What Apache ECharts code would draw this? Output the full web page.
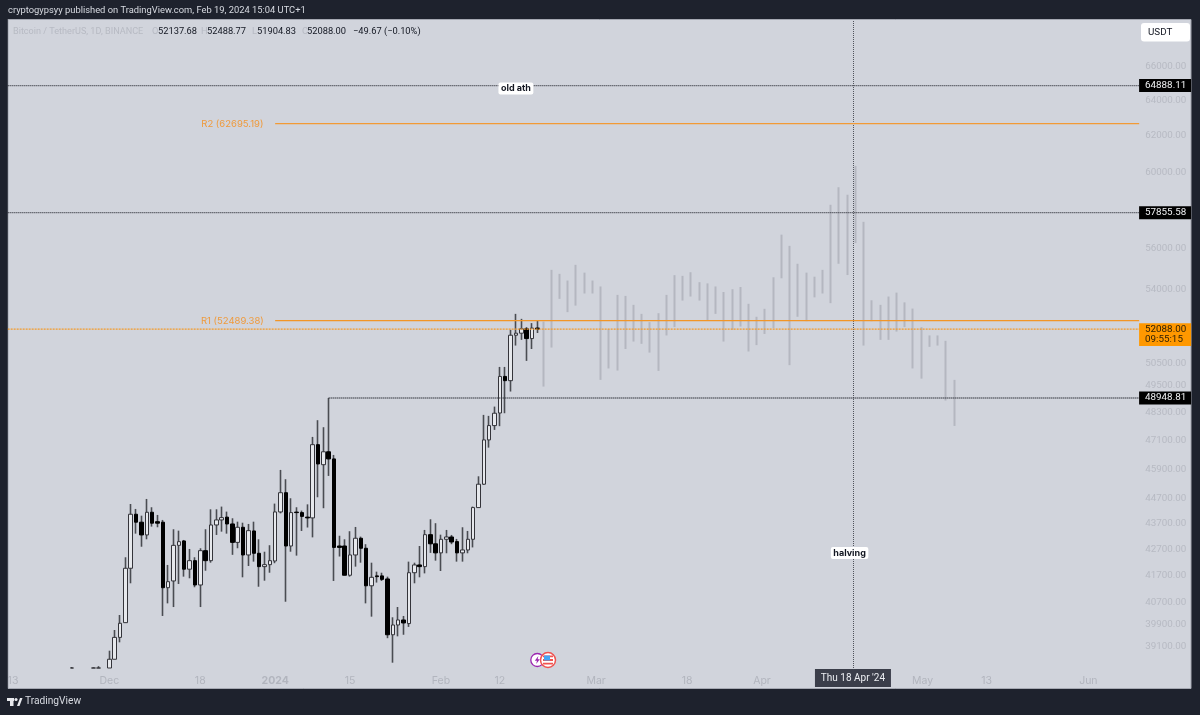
<!DOCTYPE html>
<html><head><meta charset="utf-8">
<style>html,body{margin:0;padding:0;background:#1e222d}#c{width:1200px;height:715px}</style>
<script src="https://cdn.jsdelivr.net/npm/echarts@6/dist/echarts.min.js"></script>
</head><body><div id="c"></div>
<script>
// ---- axis ticks ----
const priceTicks = [66000,64000,62000,60000,56000,54000,50500,49500,48300,47100,45900,44700,43700,42700,41700,40700,39900,39100];
const timeTicks = {'2023-11-13':'13','2023-12-01':'Dec','2023-12-18':'18','2024-01-01':'2024','2024-01-15':'15','2024-02-01':'Feb','2024-02-12':'12','2024-03-01':'Mar','2024-03-18':'18','2024-04-01':'Apr','2024-05-01':'May','2024-05-13':'13','2024-06-01':'Jun'};
const firstDay = '2023-11-12', lastDay = '2024-06-10';
const categories = [];
for (let t = Date.parse(firstDay+'T00:00:00Z'); t <= Date.parse(lastDay+'T00:00:00Z'); t += 864e5) categories.push(new Date(t).toISOString().slice(0,10));

// ---- candles, daily from 2023-11-24 to 2024-02-19 (values under the pane stop at the pane's lower edge) ----
const candleStart = '2023-11-24';
const opens = [38366,null,null,null,38366,38366,null,
38366,38670,39440,39968,41978,44075,43760,43259,44154,43780,43760,41249,41500,42855,43025,41943,42267,41350,42650,42267,43650,43849,43960,43690,42970,43560,42485,43415,42550,42040,42115,
42255,44166,44940,42830,44160,44140,43960,43930,46930,46090,46630,46330,42830,42830,41715,42485,43130,42743,41320,41690,41690,41575,39534,39884,40065,39935,41810,42104,42040,43270,42915,
42565,43090,43180,43000,42565,42677,43090,44340,45285,47132,47745,48290,49910,49720,51800,51895,52100,51644,52137.68];
const closes = [38366,null,null,null,38366,38366,null,
38670,39440,39945,41978,44075,43760,43259,44154,43720,43720,41249,41473,42855,42998,41943,42267,41350,42650,42267,43650,43849,43940,43690,42970,43560,42485,43427,42550,42040,42115,42267,
44166,44940,42830,44140,44140,43990,43930,46930,46120,46630,46330,42775,42775,41715,42485,43130,42743,41320,41637,41662,41560,39534,39884,40065,39957,41810,42104,42040,43270,42915,42565,
43090,43180,42985,42565,42677,43090,44340,45285,47132,47745,48280,49910,49720,51800,51895,52100,51644,52135,52088];
const lows = [38366,null,null,null,38366,38366,null,
38366,38670,39265,39968,41413,43310,42802,43090,43585,43560,40210,40670,40535,41388,41662,41600,41265,40535,41885,42190,43259,43388,43310,42490,42743,41637,42065,42230,41285,41510,41810,
42170,44110,40730,42610,42460,43415,43550,43165,44755,44315,45625,41500,42425,41715,41662,42040,42190,40670,40185,41440,41500,39412,38550,39478,39534,39815,41413,41637,41785,42565,42267,
41875,42550,42900,42230,42230,42550,42775,44340,45255,46805,47559,47720,48280,49235,51320,51584,50615,51160,51904.83];
const highs = [38400,null,null,null,38390,38430,null,
38970,39705,40246,42397,44485,44286,44018,44687,44354,44047,43849,42104,43482,43427,43064,42716,42397,42743,43482,44272,44272,44380,44180,43915,43780,43740,43690,43780,43090,42610,42860,
44500,45873,45490,44715,44354,44220,44470,47260,47978,47675,48948.81,46497,43228,43090,43405,43572,43195,42900,42190,41850,41810,41662,40162,40537,40210,42230,42190,42830,43455,43875,43720,
43270,43455,43259,43105,43560,43415,44380,45610,48208,48165,48570,50340,50340,52052,52808,52571,52180,52370,52488.77];

// ---- ghost projection bars, read left to right ----
const ghostFirstSlot = 65, ghostSlotCount = 138;
const ghostHighs = [52443,54948,54750,54420,55197,54810,54420,54130,52085,53720,53670,53240,52808,52415,52840,53720,54685,54650,54830,54340,54280,54130,53860,53995,54105,53290,52670,53050,54580,56720,56150,55250,54810,54610,54948,58270,59200,58800,60350,57380,53460,53240,53640,53830,53360,53060,52180,51790,51790,51540,49755];
const ghostLows = [49455,51227,53528,52890,53203,53787,53787,49755,50270,50175,51160,51505,51400,50995,50160,51790,52180,53445,53640,53445,52490,52808,51505,52052,52207,51045,51340,51860,52135,54530,50420,52670,52460,53600,53787,53320,55250,54690,56290,51320,52460,51584,51584,51970,52180,50270,49810,51260,51320,48835,47730];

// ---- levels ----
const dottedLevels = [64888.11, 57855.58];
const swingLevel = 48948.81, swingFrom = '2024-01-11';
const lastPrice = 52088.00;
const r1 = 52489.38, r2 = 62695.19, rFrom = '2024-01-01', rLabelDay = '2023-12-24';
const crossDay = '2024-04-18', crossLabel = "Thu 18 Apr '24";
const notes = [{day:'2024-02-15', price:64712, text:'old ath',off:[0,0]},{day:'2024-04-17', price:42560, text:'halving',off:[2,0]}];
const countdown = '09:55:15';

const UI = 'Inter, "Noto Sans", sans-serif';
const NUM = 'Roboto, Inter, sans-serif';
const DARK = '#1e222d', PANE = '#d1d4dc', FAINT = '#b7bac3';

const idx0 = categories.indexOf(candleStart);
const pick = fn => categories.map((d,i)=>{
  const k=i-idx0;
  if (k<0||k>=opens.length||opens[k]==null) return ['-','-','-','-'];
  return fn(k);
});
const wickData = pick(k=>[lows[k],highs[k],lows[k],highs[k]]);
const bodyData = pick(k=>[opens[k],closes[k],Math.min(opens[k],closes[k]),Math.max(opens[k],closes[k])]);
const ghostCats = Array.from({length:ghostSlotCount},(_,i)=>'slot'+i);
const ghostData = ghostCats.map((c,i)=>{
  const k=i-ghostFirstSlot;
  if(k<0||k>=ghostHighs.length) return ['-','-','-','-'];
  return [ghostLows[k],ghostHighs[k],ghostLows[k],ghostHighs[k]];
});

// hidden time axis spanning the same edges as the daily category axis
const timeMin = Date.parse(firstDay+'T00:00:00Z')-432e5, timeMax = Date.parse(lastDay+'T00:00:00Z')+432e5;
const ts = d=>Date.parse(d+'T00:00:00Z');

const dot = {type:[1,1],width:1.3,color:'#33353d'};
const tagLabel = (txt,bg,fg,extra)=>Object.assign({show:true,position:'right',distance:2.6,formatter:txt,backgroundColor:bg,color:fg,opacity:1,fontFamily:NUM,fontSize:9.8,width:45,padding:[1.5,1,1.5,6],lineHeight:10,align:'left'},extra||{});
const mono = c=>({color:c,color0:c,borderColor:c,borderColor0:c,borderColorDoji:c});
const levelSeries = (name,from,v,style)=>({name,type:'line',xAxisIndex:2,yAxisIndex:0,z:5,silent:true,symbol:'none',lineStyle:style,data:[[ts(from),v],[timeMax,v]]});

const txt = (x,y,text,fill,size)=>({type:'text',z:101,x,y,silent:true,style:{text,fill,font:(size||9.3)+'px '+NUM}});

const option = {
  animation:false,
  backgroundColor:DARK,
  grid:{left:4.975,top:20,width:1134.2,height:648,containLabel:false,show:false},
  xAxis:[{
    type:'category',data:categories,boundaryGap:true,
    axisLine:{show:false},axisTick:{show:false},splitLine:{show:false},
    axisLabel:{
      interval:(i,v)=>timeTicks[v]!==undefined,
      formatter:v=>{const s=timeTicks[v];return s==='2024'?'{b|2024}':s;},
      color:'#b2b5be',fontFamily:UI,fontSize:10.5,margin:7,hideOverlap:false,
      rich:{b:{fontWeight:'bold',color:'#b2b5be',fontFamily:UI,fontSize:10.5}}
    }
  },{
    type:'category',data:ghostCats,show:false,boundaryGap:true
  },{
    type:'time',min:timeMin,max:timeMax,show:false
  }],
  yAxis:{
    type:'log',logBase:10,position:'right',min:38366,max:68840,
    axisLine:{show:false},axisTick:{show:false},splitLine:{show:false},minorTick:{show:false},minorSplitLine:{show:false},
    axisLabel:{customValues:priceTicks,formatter:v=>Number(v).toFixed(2),color:FAINT,fontFamily:NUM,fontSize:9.8,margin:6,padding:[3,0,0,0],hideOverlap:false}
  },
  graphic:{elements:[
    {type:'rect',z:-10,silent:true,shape:{x:8,y:19.5,width:1183,height:669},style:{fill:PANE,stroke:'#a5a8b2',lineWidth:1}},
    {type:'rect',z:100,silent:true,shape:{x:0,y:20,width:7.5,height:669},style:{fill:DARK}},
    txt(8,6,'cryptogypsyy published on TradingView.com, Feb 19, 2024 15:04 UTC+1','#d8dbe2',9.35),
    txt(13,27,'Bitcoin / TetherUS, 1D, BINANCE',FAINT,9.1),
    txt(152,27,'O',FAINT), txt(158,27,'52137.68','#131722'),
    txt(201,27,'H',FAINT), txt(207,27,'52488.77','#131722'),
    txt(252,27,'L',FAINT), txt(257,27,'51904.83','#131722'),
    txt(302,27,'C',FAINT), txt(307,27,'52088.00','#131722'),
    txt(353,27,'\u221249.67 (\u22120.10%)','#131722'),
    {type:'rect',z:101,silent:true,shape:{x:1141,y:23,width:49,height:18.5,r:3},style:{fill:'#ffffff'}},
    {type:'text',z:102,silent:true,x:1148,y:28,style:{text:'USDT',fill:'#131722',font:'9.8px '+NUM}},
    {type:'rect',z:101,silent:true,shape:{x:7,y:698,width:7,height:3},style:{fill:'#e8eaee'}},
    {type:'rect',z:101,silent:true,shape:{x:10,y:698,width:3.5,height:8},style:{fill:'#e8eaee'}},
    {type:'circle',z:101,silent:true,shape:{cx:16,cy:699.5,r:1.6},style:{fill:'#e8eaee'}},
    {type:'polygon',z:101,silent:true,shape:{points:[[17,706],[20,698],[22.5,698],[19.5,706]]},style:{fill:'#e8eaee'}},
    {type:'text',z:101,silent:true,x:25,y:696,style:{text:'TradingView',fill:'#d8dbe2',font:'10.2px '+NUM}}
  ]},
  series:[
    {
      name:'ghost',type:'candlestick',xAxisIndex:1,yAxisIndex:0,barWidth:1,z:2,silent:true,
      data:ghostData,
      itemStyle:Object.assign(mono('#b4b7c0'),{borderWidth:2})
    },
    {
      name:'wicks',type:'candlestick',xAxisIndex:0,yAxisIndex:0,barWidth:1,z:3,silent:true,
      data:wickData,
      itemStyle:Object.assign(mono('#4a4c52'),{borderWidth:1.6})
    },
    {
      name:'BTCUSDT',type:'candlestick',xAxisIndex:0,yAxisIndex:0,barWidth:4,z:4,silent:true,
      data:bodyData,
      itemStyle:{color:'#e6e8ec',color0:'#000000',borderColor:'#34343a',borderColor0:'#000000',borderColorDoji:'#34343a',borderWidth:1}
    },
    levelSeries('old ath',firstDay,dottedLevels[0],dot),
    levelSeries('level 2',firstDay,dottedLevels[1],dot),
    levelSeries('swing',swingFrom,swingLevel,dot),
    levelSeries('last',firstDay,lastPrice,{type:[2,1],width:1.3,color:'#f39a2a'}),
    levelSeries('R1',rFrom,r1,{type:'solid',width:1.3,color:'#f29526'}),
    levelSeries('R2',rFrom,r2,{type:'solid',width:1.2,color:'#f29a36'}),
    {
      name:'cross',type:'line',xAxisIndex:0,yAxisIndex:0,data:[],silent:true,z:5,
      markLine:{silent:true,symbol:'none',animation:false,
        lineStyle:{type:'dotted',width:1,color:'#50535c'},
        label:{show:true,position:'start',distance:1,formatter:crossLabel,backgroundColor:'#3b3e4a',color:'#eceef2',fontFamily:NUM,fontSize:10,padding:[4,7,4,7],width:62,align:'center'},
        data:[{xAxis:crossDay}]
      }
    },
    {
      name:'tags',type:'scatter',xAxisIndex:0,yAxisIndex:0,symbol:'circle',symbolSize:0,z:6,silent:true,
      itemStyle:{color:'transparent',opacity:1},
      data:[
        {value:[lastDay,dottedLevels[0]],label:tagLabel(dottedLevels[0].toFixed(2),'#000000','#f2f3f5')},
        {value:[lastDay,dottedLevels[1]],label:tagLabel(dottedLevels[1].toFixed(2),'#000000','#f2f3f5')},
        {value:[lastDay,swingLevel],label:tagLabel(swingLevel.toFixed(2),'#000000','#f2f3f5')},
        {value:[lastDay,lastPrice],label:tagLabel(lastPrice.toFixed(2)+'\n'+countdown,'#ff9800','#2a1d05',{offset:[0,5.5],padding:[1,1,1,6],lineHeight:10.4})},
        {value:[rLabelDay,r2],label:{show:true,position:'inside',offset:[0,1],formatter:'R2 ('+r2.toFixed(2)+')',color:'#ef9a3c',opacity:1,fontFamily:UI,fontSize:9.5}},
        {value:[rLabelDay,r1],label:{show:true,position:'inside',offset:[0,1],formatter:'R1 ('+r1.toFixed(2)+')',color:'#ef9a3c',opacity:1,fontFamily:UI,fontSize:9.5}},
        ...notes.map(n=>({value:[n.day,n.price],label:{show:true,position:'inside',offset:n.off,formatter:n.text,backgroundColor:'#ffffff',opacity:1,borderRadius:2,padding:[1.5,2.5],color:'#131722',fontFamily:UI,fontWeight:'bold',fontSize:9}}))
      ]
    },
    {
      name:'events',type:'scatter',xAxisIndex:0,yAxisIndex:0,z:7,silent:true,symbolSize:13,
      itemStyle:{opacity:1},
      data:[
        {value:['2024-02-19',38644],itemStyle:{color:'#ffffff',borderColor:'#9c27b0',borderWidth:1.3,opacity:1}},
        {value:['2024-02-19',38644],symbol:'path://M6 0L1 7H4L3 12L8 5H5Z',symbolSize:[5,8],itemStyle:{color:'#9c27b0',opacity:1}},
        {value:['2024-02-21',38644],symbolSize:15,itemStyle:{color:'#ffffff',borderColor:'#ef5350',borderWidth:1.5,opacity:1}},
        {value:['2024-02-21',38644],symbol:'path://M0 0H10V2H0ZM0 4H10V6H0ZM0 8H10V10H0Z',symbolSize:[10,9],itemStyle:{color:'#ef5350',opacity:1}},
        {value:['2024-02-21',38644],symbol:'rect',symbolSize:[6,5],symbolOffset:[-1,-2],itemStyle:{color:'#42a5f5',opacity:1}}
      ]
    }
  ]
};
const chart = echarts.init(document.getElementById('c'),null,{renderer:'canvas',width:1200,height:715});
chart.setOption(option);
</script></body></html>
